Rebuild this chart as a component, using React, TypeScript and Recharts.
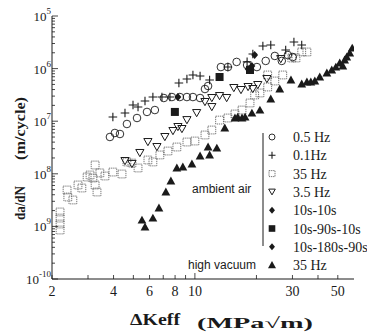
import { Legend, Scatter, ScatterChart, XAxis, YAxis } from "recharts";

type Pt = [number, number];

const SERIF = "Liberation Serif, Times New Roman, serif";
const SANS = "Liberation Sans, Arial, sans-serif";
const INK = "#1a1a1a";

// ambient air
const circle05Hz: Pt[] = [
  [3.84, 5.01e-8], [4.06, 5.97e-8], [4.3, 5.71e-8], [4.65, 8.85e-8], [5.21, 1.15e-7],
  [5.83, 1.5e-7], [6.37, 1.63e-7], [7.05, 2.76e-7], [7.72, 2.88e-7], [8.44, 2.88e-7],
  [9.14, 2.88e-7], [9.78, 2.88e-7], [10.6, 2.76e-7], [11.2, 4.09e-7], [11.6, 4.67e-7],
  [13.4, 1.07e-6], [14.5, 1.07e-6], [16.0, 1.34e-6], [18.0, 1.17e-6], [20.1, 1.07e-6],
  [22.2, 1.4e-6], [24.6, 1.74e-6], [26.6, 1.4e-6], [28.5, 1.81e-6], [30.1, 1.66e-6],
];

const plus01Hz: Pt[] = [
  [3.97, 1.2e-7], [4.55, 1.43e-7], [4.98, 2.03e-7], [5.27, 1.86e-7], [5.7, 2.42e-7],
  [6.23, 2.88e-7], [6.9, 2.88e-7], [7.55, 2.88e-7], [8.35, 5.32e-7], [9.14, 6.34e-7],
  [9.78, 7.56e-7], [10.6, 7.23e-7], [11.8, 6.07e-7], [14.5, 1.07e-6], [18.0, 1.34e-6],
  [19.2, 1.9e-6], [21.5, 2.69e-6], [23.5, 2.81e-6], [27.8, 2.26e-6], [30.5, 3.2e-6],
  [33.3, 2.81e-6],
];

const square35Hz: Pt[] = [
  [2.19, 1.88e-9], [2.19, 1.44e-9], [2.19, 1.11e-9], [2.19, 8.54e-10], [2.37, 4.92e-9],
  [2.39, 3.62e-9], [2.53, 3.18e-9], [2.68, 6.13e-9], [2.8, 5.37e-9], [2.97, 8.69e-9],
  [3.07, 9.49e-9], [3.17, 8.32e-9], [3.25, 1.47e-8], [3.25, 6.13e-9], [3.32, 4.51e-9],
  [3.43, 1.04e-8], [3.63, 9.08e-9], [3.97, 1.08e-8], [4.4, 9.91e-9], [4.65, 1.68e-8],
  [4.92, 1.6e-8], [5.27, 1.29e-8], [5.89, 1.83e-8], [6.23, 1.68e-8], [6.74, 2.28e-8],
  [7.38, 2.71e-8], [8.16, 3.23e-8], [9.14, 4.02e-8], [10.0, 4.2e-8], [11.2, 5.47e-8],
  [12.1, 6.8e-8], [13.2, 1.05e-7], [14.5, 1.15e-7], [15.7, 1.37e-7], [17.0, 1.63e-7],
  [18.6, 2.22e-7], [19.6, 3.15e-7], [20.8, 3.44e-7], [22.7, 4.47e-7], [22.7, 7.56e-7],
  [24.6, 5.81e-7], [26.9, 7.56e-7], [29.8, 1.59e-6], [31.2, 1.59e-6], [33.3, 2.07e-6],
  [35.3, 2.07e-6],
];

const tri35Hz: Pt[] = [
  [4.55, 1.75e-8], [4.92, 1.54e-8], [5.38, 2.49e-8], [5.89, 4.02e-8], [6.52, 3.23e-8],
  [7.13, 5.01e-8], [7.81, 6.51e-8], [8.26, 7.76e-8], [8.64, 7.11e-8], [9.14, 1.05e-7],
  [10.2, 1.43e-7], [11.2, 2.32e-7], [12.1, 1.86e-7], [12.1, 2.76e-7], [13.2, 3.01e-7],
  [14.3, 2.76e-7], [15.5, 4.28e-7], [16.8, 3.92e-7], [18.2, 4.47e-7], [19.2, 4.09e-7],
  [20.3, 4.88e-7], [22.5, 6.34e-7], [26.3, 1.52e-6],
];

const hold10s10s: Pt[] = [[8.26, 2.88e-7], [19.6, 1.81e-6]];
const hold10s90s10s: Pt[] = [[7.98, 1.5e-7], [13.2, 6.92e-7], [18.6, 9.41e-7]];
const hold10s180s90s: Pt[] = [[19.0, 1.12e-6], [18.2, 9.8e-7]];

// high vacuum
const vacuum35Hz: Pt[] = [
  [5.51, 1.32e-9], [5.7, 9.74e-10], [6.23, 1.44e-9], [6.67, 2.24e-9], [7.21, 4.51e-9],
  [7.63, 7.3e-9], [8.16, 1.29e-8], [8.73, 1.35e-8], [9.67, 1.54e-8], [10.6, 2.18e-8],
  [11.6, 3.23e-8], [11.8, 2.28e-8], [12.8, 3.09e-8], [14.0, 7.43e-8], [15.7, 1.15e-7],
  [16.2, 1.2e-7], [17.0, 1.15e-7], [17.6, 1.2e-7], [19.0, 1.43e-7], [20.8, 1.63e-7],
  [23.5, 2.64e-7], [26.0, 4.09e-7], [29.5, 6.07e-7], [33.3, 5.1e-7], [35.3, 5.56e-7],
  [36.9, 5.56e-7], [38.6, 5.81e-7], [40.8, 6.92e-7], [44.2, 8.25e-7], [46.7, 9.41e-7],
  [48.9, 1.07e-6], [51.1, 1.28e-6], [52.9, 1.12e-6], [54.0, 1.46e-6], [55.3, 1.66e-6],
  [57.2, 1.98e-6], [58.8, 2.46e-6],
];

const xTicks = [2, 3, 4, 5, 6, 7, 8, 9, 10, 20, 30, 40, 50];
const xTickLabels = [2, 4, 6, 8, 10, 30, 50];
const yMajorTicks = [1e-10, 1e-9, 1e-8, 1e-7, 1e-6, 1e-5];
const yExpLabels = ["-10", "9", "8", "7", "6", "5"];
const yTicks = yMajorTicks
  .slice(0, -1)
  .flatMap((d) => [1, 2, 3, 4, 5, 6, 7, 8, 9].map((m) => m * d))
  .concat([1e-5]);

const toRows = (pts: Pt[]) => pts.map(([x, y]) => ({ x, y }));

// marker shapes (mk = half size, used by the legend; recharts passes its own "size")
const OpenCircle = (p: any) => {
  const s = p.mk ?? 3.8;
  return <circle cx={p.cx} cy={p.cy} r={s} fill="none" stroke={INK} strokeWidth={0.9} />;
};
const PlusMark = (p: any) => {
  const s = p.mk ?? 4.3;
  return (
    <path
      d={`M${p.cx - s},${p.cy}H${p.cx + s}M${p.cx},${p.cy - s}V${p.cy + s}`}
      stroke={INK}
      strokeWidth={1.1}
    />
  );
};
const DottedSquare = (p: any) => {
  const s = p.mk ?? 3.9;
  return (
    <rect
      x={p.cx - s}
      y={p.cy - s}
      width={2 * s}
      height={2 * s}
      fill="none"
      stroke="#555"
      strokeWidth={0.8}
      strokeDasharray="1.3 0.8"
    />
  );
};
const DownTriangle = (p: any) => {
  const s = p.mk ?? 4.1;
  return (
    <polygon
      points={`${p.cx - s},${p.cy - s * 0.85} ${p.cx + s},${p.cy - s * 0.85} ${p.cx},${p.cy + s * 0.9}`}
      fill="none"
      stroke={INK}
      strokeWidth={1}
    />
  );
};
const FilledDiamond = (p: any) => {
  const s = p.mk ?? 4;
  return (
    <polygon
      points={`${p.cx},${p.cy - s} ${p.cx + s * 0.85},${p.cy} ${p.cx},${p.cy + s} ${p.cx - s * 0.85},${p.cy}`}
      fill={INK}
    />
  );
};
const FilledSquare = (p: any) => {
  const s = p.mk ?? 4;
  return <rect x={p.cx - s} y={p.cy - s} width={2 * s} height={2 * s} fill={INK} />;
};
const FilledTriangle = (p: any) => {
  const s = p.mk ?? 4.4;
  return (
    <polygon
      points={`${p.cx},${p.cy - s} ${p.cx + s},${p.cy + s * 0.8} ${p.cx - s},${p.cy + s * 0.8}`}
      fill={INK}
    />
  );
};

const legendRows = [
  { label: "0.5 Hz", Shape: OpenCircle, mk: 3 },
  { label: "0.1Hz", Shape: PlusMark, mk: 3.5 },
  { label: "35 Hz", Shape: DottedSquare, mk: 3 },
  { label: "3.5 Hz", Shape: DownTriangle, mk: 3.3 },
  { label: "10s-10s", Shape: FilledDiamond, mk: 3.5 },
  { label: "10s-90s-10s", Shape: FilledSquare, mk: 3.3 },
  { label: "10s-180s-90s", Shape: FilledDiamond, mk: 3.5 },
  { label: "35 Hz", Shape: FilledTriangle, mk: 4 },
];

const YTick = (props: any) => {
  const { x, y, payload } = props;
  const i = yMajorTicks.indexOf(payload.value);
  const major = i >= 0;
  return (
    <g>
      <line x1={x} x2={x + (major ? 6 : 3)} y1={y} y2={y} stroke={INK} strokeWidth={0.8} />
      {major && (
        <text x={x - 1} y={y + 5} textAnchor="end" fontFamily={SERIF} fontSize={13} fill={INK}>
          <tspan>10</tspan>
          <tspan dy={-7} fontSize={9}>
            {yExpLabels[i]}
          </tspan>
        </text>
      )}
    </g>
  );
};

const XTick = (props: any) => {
  const { x, y, payload } = props;
  const v = payload.value;
  const labelled = xTickLabels.includes(v);
  return (
    <g>
      <line x1={x} x2={x} y1={y} y2={y - (v === 10 ? 6 : 4)} stroke={INK} strokeWidth={0.8} />
      {labelled && (
        <text x={x} y={y + 17} textAnchor="middle" fontFamily={SERIF} fontSize={14} fill={INK}>
          {v}
        </text>
      )}
    </g>
  );
};

const renderLegend = () => (
  <svg width={367} height={336} style={{ overflow: "visible" }}>
    <line x1={263} x2={263} y1={133} y2={246} stroke={INK} strokeWidth={1} />
    {legendRows.map((row, i) => {
      const cy = 137 + i * 18.3;
      const { Shape } = row;
      return (
        <g key={`legend-${i}`}>
          <Shape cx={272} cy={cy} mk={row.mk} />
          <text x={293} y={cy + 5} fontFamily={SERIF} fontSize={14} fill={INK}>
            {row.label}
          </text>
        </g>
      );
    })}
    <text x={192} y={193} fontFamily={SANS} fontSize={12} fill={INK}>
      ambient air
    </text>
    <text x={188} y={269} fontFamily={SANS} fontSize={12} fill={INK}>
      high vacuum
    </text>
    <text x={130} y={325} fontFamily={SERIF} fontSize={17} fontWeight="bold" fill={INK} textLength={50} lengthAdjust="spacingAndGlyphs">
      ΔKeff
    </text>
    <text x={197} y={328} fontFamily={SERIF} fontSize={15} fontWeight="bold" fill={INK} textLength={116} lengthAdjust="spacingAndGlyphs">
      (MPa√m)
    </text>
    <text transform="translate(25,220) rotate(-90)" fontFamily={SERIF} fontSize={15} fontWeight="bold" fill={INK} textLength={34} lengthAdjust="spacingAndGlyphs">
      da/dN
    </text>
    <text transform="translate(25,160) rotate(-90)" fontFamily={SERIF} fontSize={15} fontWeight="bold" fill={INK} textLength={63} lengthAdjust="spacingAndGlyphs">
      (m/cycle)
    </text>
  </svg>
);

export default function App() {
  return (
    <div style={{ position: "absolute", left: 0, top: 0, background: "#fff" }}>
      <ScatterChart width={367} height={336} margin={{ top: 16, right: 13, bottom: 27, left: 7 }}>
        <XAxis
          dataKey="x"
          type="number"
          scale="log"
          domain={[2, 60]}
          allowDataOverflow
          ticks={xTicks}
          interval={0}
          tick={XTick}
          tickLine={false}
          tickSize={0}
          tickMargin={0}
          height={30}
          axisLine={{ stroke: INK, strokeWidth: 1 }}
        />
        <YAxis
          dataKey="y"
          type="number"
          scale="log"
          domain={[1e-10, 1e-5]}
          allowDataOverflow
          ticks={yTicks}
          interval={0}
          tick={YTick}
          tickLine={false}
          tickSize={0}
          tickMargin={0}
          width={45}
          axisLine={{ stroke: INK, strokeWidth: 1 }}
        />
        <Scatter data={toRows(square35Hz)} shape={DottedSquare} isAnimationActive={false} />
        <Scatter data={toRows(tri35Hz)} shape={DownTriangle} isAnimationActive={false} />
        <Scatter data={toRows(circle05Hz)} shape={OpenCircle} isAnimationActive={false} />
        <Scatter data={toRows(plus01Hz)} shape={PlusMark} isAnimationActive={false} />
        <Scatter data={toRows(hold10s10s)} shape={FilledDiamond} isAnimationActive={false} />
        <Scatter data={toRows(hold10s90s10s)} shape={FilledSquare} isAnimationActive={false} />
        <Scatter data={toRows(hold10s180s90s)} shape={FilledDiamond} isAnimationActive={false} />
        <Scatter data={toRows(vacuum35Hz)} shape={FilledTriangle} isAnimationActive={false} />
        <Legend
          content={renderLegend}
          layout="vertical"
          align="center"
          verticalAlign="middle"
          wrapperStyle={{ position: "absolute", left: 0, top: 0, width: 367, height: 336, pointerEvents: "none" }}
        />
      </ScatterChart>
    </div>
  );
}
